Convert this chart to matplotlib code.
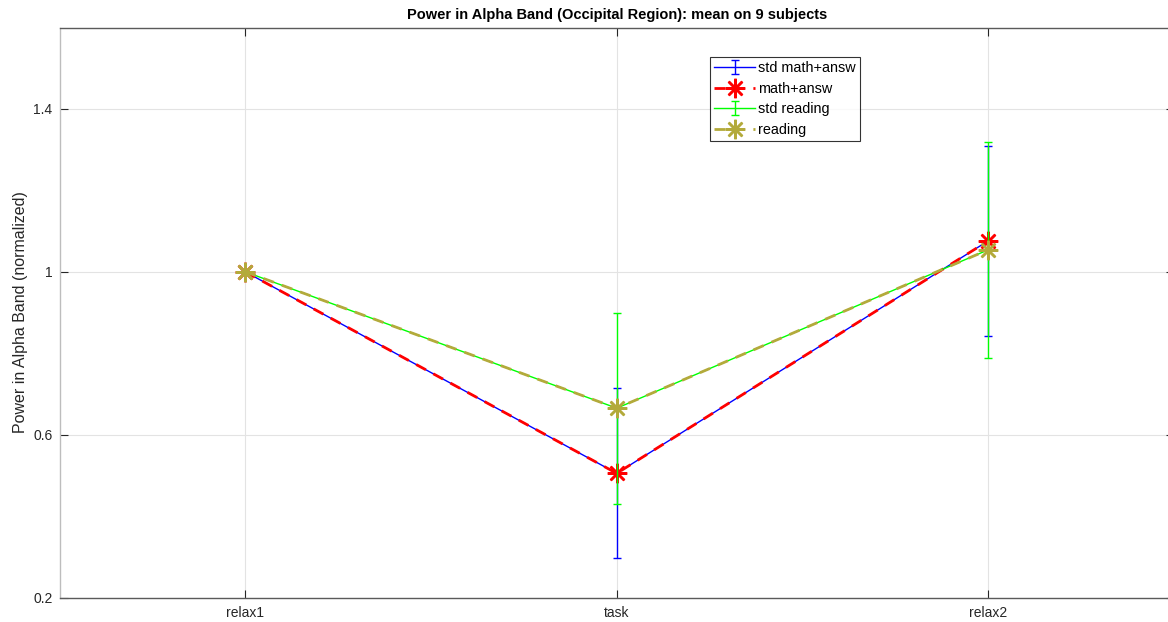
import matplotlib
matplotlib.use("Agg")
import matplotlib.pyplot as plt

categories = ["relax1", "task", "relax2"]
math_mean = [1.0, 0.505, 1.076]
math_std = [0.0, 0.209, 0.233]
read_mean = [1.0, 0.665, 1.054]
read_std = [0.0, 0.235, 0.265]
yticks = [0.2, 0.6, 1.0, 1.4]
ytick_labels = ["0.2", "0.6", "1", "1.4"]

plt.rcParams['font.family'] = ['Liberation Sans', 'DejaVu Sans']

fig = plt.figure(figsize=(11.68, 6.22), dpi=100)
ax = fig.add_axes([59.5/1168, 24.5/622, 1114.5/1168, 570/622])

x = [1, 2, 3]
ast = (8, 2, 0)
olive = '#b3aa3b'

h1 = ax.errorbar(x, math_mean, yerr=math_std, color='blue', lw=1, capsize=3,
                 capthick=1, label='std math+answ', zorder=3)
h2, = ax.plot(x, math_mean, color='red', lw=2, ls=(0, (4, 3)), marker=ast, ms=14,
              mew=1.8, label='math+answ', zorder=4)
h3 = ax.errorbar(x, read_mean, yerr=read_std, color='#00ff00', lw=1, capsize=3,
                 capthick=1, label='std reading', zorder=5)
h4, = ax.plot(x, read_mean, color=olive, lw=2, ls=(0, (4, 3)), marker=ast, ms=14,
              mew=1.8, label='reading', zorder=6)

ax.set_xlim(0.5, 3.5)
ax.set_ylim(0.2, 1.6)
ax.set_xticks(x)
ax.set_xticklabels(categories)
ax.set_yticks(yticks)
ax.set_yticklabels(ytick_labels)
ax.tick_params(direction='in', top=True, right=True, labelsize=10,
               colors='#262626', length=6, width=0.8)
ax.tick_params(axis='y', pad=5)
ax.tick_params(axis='x', pad=6)
ax.grid(True, color='#e3e3e3', lw=0.8)
ax.set_axisbelow(True)
for s in ax.spines.values():
    s.set_color('#5a5a5a')
    s.set_linewidth(1)
ax.spines['left'].set_color('#bdbdbd')

ax.set_ylabel('Power in Alpha Band (normalized)', fontsize=11.5, color='#262626', labelpad=4)
ax.set_title('Power in Alpha Band (Occipital Region): mean on 9 subjects',
             fontsize=10.5, fontweight='bold', pad=6)

leg = ax.legend([h1, h2, h3, h4], ['std math+answ', 'math+answ', 'std reading', 'reading'],
                loc='upper left', bbox_to_anchor=((710-59.5)/1114.5, (597.5-57)/570),
                fontsize=10.4, frameon=True, fancybox=False, borderpad=0.3,
                handlelength=2.8, handletextpad=0.2, labelspacing=0.45,
                borderaxespad=0)
leg.get_frame().set_edgecolor('black')
leg.get_frame().set_linewidth(0.8)

fig.savefig('out.png', dpi=100)
